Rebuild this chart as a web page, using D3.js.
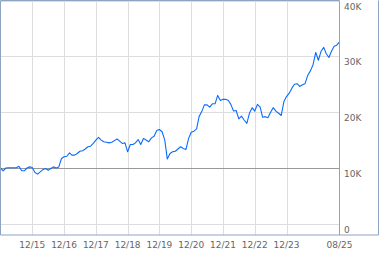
<!DOCTYPE html>
<html lang="en">
<head>
<meta charset="UTF-8">
<title>Growth of 10K</title>
<style>
body {
    margin: 0;
    background-color: #fff;
}
svg text {
    font-family: "DejaVu Sans", sans-serif;
    font-size: 9px;
    fill: #666;
}
</style>
</head>
<body>
<div id="plot"></div>
<script src="https://cdn.jsdelivr.net/npm/d3@7/dist/d3.min.js"></script>
<script>

const w = 379,
      h = 255;

// monthly values, Dec 2014 .. Aug 2025
const firstMonth = new Date(2014, 11, 1),
      lastMonth = new Date(2025, 7, 1);

const values = [
    10000, 9500, 10000, 10050, 10050, 10050, 10050, 10300, 9500, 9500,
    10000, 10200, 10100, 9200, 8900, 9300, 9700, 9900, 9600, 9900,
    10200, 10000, 10200, 11700, 12000, 12100, 12700, 12300, 12300, 12600,
    13000, 13100, 13400, 13800, 13900, 14400, 15000, 15500, 15000, 14700,
    14600, 14500, 14600, 14900, 15200, 14800, 14400, 14500, 12900, 14200,
    14200, 14500, 15100, 14200, 15300, 15000, 14700, 15400, 15700, 16700,
    16900, 16500, 15000, 11600, 12600, 12900, 13000, 13400, 13800, 13500,
    13300, 15300, 16400, 16600, 17000, 19200, 20100, 21300, 21300, 20900,
    21500, 21500, 23000, 22100, 22300, 22300, 22100, 21400, 20200, 20300,
    18800, 19300, 18600, 18000, 19800, 20800, 20200, 21400, 20900, 19100,
    19200, 19000, 20000, 20800, 20200, 19800, 19400, 21900, 22800, 23400,
    24300, 25000, 25100, 24600, 24900, 25100, 26600, 27400, 28500, 30700,
    29300, 30900, 31600, 30500, 29800, 30900, 31800, 32000, 32600
];

const months = d3.timeMonth.range(firstMonth, d3.timeMonth.offset(lastMonth, 1));

// x ticks: december of each year + last month
const xTickDates = [
    new Date(2015, 11, 1), new Date(2016, 11, 1), new Date(2017, 11, 1),
    new Date(2018, 11, 1), new Date(2019, 11, 1), new Date(2020, 11, 1),
    new Date(2021, 11, 1), new Date(2022, 11, 1), new Date(2023, 11, 1),
    lastMonth
];
const xTickLabels = ["12/15", "12/16", "12/17", "12/18", "12/19", "12/20", "12/21", "12/22", "12/23", "08/25"];

const yTicks = [0, 10000, 20000, 30000, 40000];
const yTickLabels = ["0", "10K", "20K", "30K", "40K"];
const baseline = 10000;

const data = months.map((d, i) => ({date: d, value: values[i]}));

// plot box
const boxL = 0.5, boxR = 339.5, boxT = 0.5, boxB = 235;

const x = d3.scaleTime()
    .domain([firstMonth, lastMonth])
    .range([boxL, boxR]);

const y = d3.scaleLinear()
    .domain([-2000, 40000])
    .range([boxB, boxT]);

const svg = d3.select("#plot").append("svg")
    .attr("width", w)
    .attr("height", h);

// vertical grid
svg.selectAll(".vgrid")
    .data(xTickDates.slice(0, -1))
    .join("line")
    .attr("class", "vgrid")
    .attr("x1", d => Math.round(x(d)) + 0.5)
    .attr("x2", d => Math.round(x(d)) + 0.5)
    .attr("y1", boxT)
    .attr("y2", boxB)
    .attr("stroke", "#ddd");

// horizontal grid
svg.selectAll(".hgrid")
    .data(yTicks)
    .join("line")
    .attr("class", "hgrid")
    .attr("x1", boxL)
    .attr("x2", boxR)
    .attr("y1", d => Math.round(y(d)) + 0.5)
    .attr("y2", d => Math.round(y(d)) + 0.5)
    .attr("stroke", "#ddd");

// 10K reference line
svg.append("line")
    .attr("x1", boxL)
    .attr("x2", boxR)
    .attr("y1", Math.round(y(baseline)) + 0.5)
    .attr("y2", Math.round(y(baseline)) + 0.5)
    .attr("stroke", "#999");

// the series
const line = d3.line()
    .x(d => x(d.date))
    .y(d => y(d.value));

svg.append("path")
    .datum(data)
    .attr("d", line)
    .attr("fill", "none")
    .attr("stroke", "#0a6cff")
    .attr("stroke-width", 1.1)
    .attr("stroke-linejoin", "round");

// frame
svg.append("path")
    .attr("d", `M${boxL},${boxB}V${boxT}H${boxR}V${boxB}`)
    .attr("fill", "none")
    .attr("stroke", "#8ea3c1");
svg.append("path")
    .attr("d", `M${boxL},${boxB}H378.5V${boxT}`)
    .attr("fill", "none")
    .attr("stroke", "#8ea3c1");

// y labels on the right
svg.selectAll(".ylab")
    .data(yTicks)
    .join("text")
    .attr("class", "ylab")
    .attr("x", 344)
    .attr("y", d => y(d) + 9)
    .text((d, i) => yTickLabels[i]);

// x labels
svg.selectAll(".xlab")
    .data(xTickDates)
    .join("text")
    .attr("class", "xlab")
    .attr("x", d => x(d))
    .attr("y", 247.5)
    .attr("text-anchor", "middle")
    .text((d, i) => xTickLabels[i]);
</script>
</body>
</html>
